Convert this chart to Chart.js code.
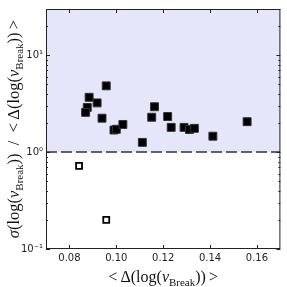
<!DOCTYPE html>
<html>
<head>
<meta charset="utf-8">
<script src="https://cdn.jsdelivr.net/npm/chart.js@4"></script>
<style>
  html, body { margin: 0; padding: 0; background: #fff; }
</style>
</head>
<body>
<canvas id="grafico" width="287" height="287"></canvas>
<script>
// Datos
const deltaMedio = [0.0957, 0.0884, 0.0918, 0.0876, 0.0869, 0.0939, 0.0990, 0.1000, 0.1028, 0.1111,
                    0.1151, 0.1163, 0.1219, 0.1234, 0.1289, 0.1312, 0.1333, 0.1412, 0.1558];
const razonSigma = [4.83, 3.68, 3.22, 2.89, 2.57, 2.24, 1.69, 1.72, 1.93, 1.26,
                    2.29, 2.94, 2.33, 1.80, 1.80, 1.71, 1.76, 1.46, 2.06];
const deltaBajo = [0.0841, 0.0957];
const razonBajo = [0.722, 0.200];
const limiteX = [0.07, 0.17];
const limiteY = [0.1, 30];
const ticksX = [0.08, 0.10, 0.12, 0.14, 0.16];
const ticksY = [0.1, 1, 10];
const etiquetasY = ['10\u207B\u00B9', '10\u2070', '10\u00B9'];
const umbral = 1;

const fuenteSerif = '"Liberation Serif", "DejaVu Serif", serif';

// Titulos con subindices: [texto, estilo] ; n normal, i italica, s subindice
const nuBreak = [['\u03BD', 'i'], ['Break', 's']];
const tituloX = [['<\u2009', 'n'], ['\u0394(log(', 'n'], ...nuBreak, ['))', 'n'], ['\u2009>', 'n']];
const tituloY = [['\u03C3', 'i'], ['(log(', 'n'], ...nuBreak, ['))', 'n'], ['\u2002/\u2002', 'n'],
                 ['<\u2009', 'n'], ['\u0394(log(', 'n'], ...nuBreak, ['))', 'n'], ['\u2009>', 'n']];

function fuentePara(estilo, tam) {
  if (estilo === 's') return `${Math.round(tam * 0.68)}px ${fuenteSerif}`;
  if (estilo === 'i') return `italic ${tam}px ${fuenteSerif}`;
  return `${tam}px ${fuenteSerif}`;
}

function anchoRico(ctx, partes, tam) {
  let w = 0;
  partes.forEach(([t, e]) => { ctx.font = fuentePara(e, tam); w += ctx.measureText(t).width; });
  return w;
}

// dibuja centrado en (0,0) del contexto actual
function dibujaRico(ctx, partes, tam) {
  let x = -anchoRico(ctx, partes, tam) / 2;
  ctx.textBaseline = 'alphabetic';
  ctx.textAlign = 'left';
  partes.forEach(([t, e]) => {
    ctx.font = fuentePara(e, tam);
    ctx.fillText(t, x, e === 's' ? tam * 0.22 : 0);
    x += ctx.measureText(t).width;
  });
}

const plugEjes = {
  id: 'ejes',
  beforeDatasetsDraw(chart) {
    const { ctx, chartArea: a, scales: { y } } = chart;
    const yU = y.getPixelForValue(umbral);
    ctx.save();
    ctx.fillStyle = '#e6e6fa';
    ctx.fillRect(a.left, a.top, a.right - a.left, yU - a.top);
    ctx.restore();
  },
  afterDraw(chart) {
    const { ctx, chartArea: a, scales: { x, y } } = chart;
    ctx.save();
    ctx.strokeStyle = '#222';
    ctx.lineWidth = 1;
    ctx.strokeRect(a.left + 0.5, a.top + 0.5, a.right - a.left - 1, a.bottom - a.top - 1);

    ctx.beginPath();
    ticksX.forEach(v => {
      const px = Math.round(x.getPixelForValue(v)) + 0.5;
      ctx.moveTo(px, a.bottom); ctx.lineTo(px, a.bottom - 4);
      ctx.moveTo(px, a.top); ctx.lineTo(px, a.top + 4);
    });
    ticksY.forEach(d => {
      for (let m = 1; m <= 9; m++) {
        const v = d * m;
        if (v > limiteY[1]) break;
        const largo = m === 1 ? 4 : 2;
        const py = Math.round(y.getPixelForValue(v)) + 0.5;
        ctx.moveTo(a.left, py); ctx.lineTo(a.left + largo, py);
        ctx.moveTo(a.right, py); ctx.lineTo(a.right - largo, py);
      }
    });
    ctx.stroke();

    ctx.fillStyle = '#111';
    ctx.save();
    ctx.translate((a.left + a.right) / 2, 282);
    dibujaRico(ctx, tituloX, 16);
    ctx.restore();

    ctx.save();
    ctx.translate(19, (a.top + a.bottom) / 2);
    ctx.rotate(-Math.PI / 2);
    dibujaRico(ctx, tituloY, 16.5);
    ctx.restore();
    ctx.restore();
  }
};

const ctx = document.getElementById('grafico').getContext('2d');
const chart = new Chart(ctx, {
  data: {
    datasets: [
      {
        type: 'scatter',
        data: deltaMedio.map((v, i) => ({ x: v, y: razonSigma[i] })),
        pointStyle: 'rect',
        pointRadius: 5.6,
        backgroundColor: '#000',
        borderColor: '#333',
        borderWidth: 1,
        order: 1
      },
      {
        type: 'scatter',
        data: deltaBajo.map((v, i) => ({ x: v, y: razonBajo[i] })),
        pointStyle: 'rect',
        pointRadius: 4.2,
        backgroundColor: '#fff',
        borderColor: '#000',
        borderWidth: 1.8,
        order: 2
      },
      {
        type: 'line',
        data: limiteX.map(v => ({ x: v, y: umbral })),
        borderColor: '#333',
        borderWidth: 1.5,
        borderDash: [11, 4],
        pointRadius: 0,
        order: 3
      }
    ]
  },
  options: {
    responsive: false,
    animation: false,
    layout: { padding: { top: 5, right: 5, left: 0, bottom: 0 } },
    plugins: { legend: { display: false }, tooltip: { enabled: false } },
    scales: {
      x: {
        type: 'linear',
        min: limiteX[0],
        max: limiteX[1],
        afterBuildTicks: s => { s.ticks = ticksX.map(v => ({ value: v })); },
        afterFit: s => { s.height = 38; },
        grid: { display: false, drawTicks: false },
        border: { display: false },
        ticks: {
          padding: 3,
          maxRotation: 0,
          color: '#222',
          font: { family: 'DejaVu Sans', size: 10 },
          callback: v => v.toFixed(2)
        }
      },
      y: {
        type: 'logarithmic',
        min: limiteY[0],
        max: limiteY[1],
        afterBuildTicks: s => { s.ticks = ticksY.map(v => ({ value: v })); },
        afterFit: s => { s.width = 46; },
        grid: { display: false, drawTicks: false },
        border: { display: false },
        ticks: {
          padding: 3,
          color: '#222',
          font: { family: 'DejaVu Sans', size: 10 },
          callback: v => etiquetasY[ticksY.indexOf(v)] ?? ''
        }
      }
    }
  },
  plugins: [plugEjes]
});
</script>
</body>
</html>
